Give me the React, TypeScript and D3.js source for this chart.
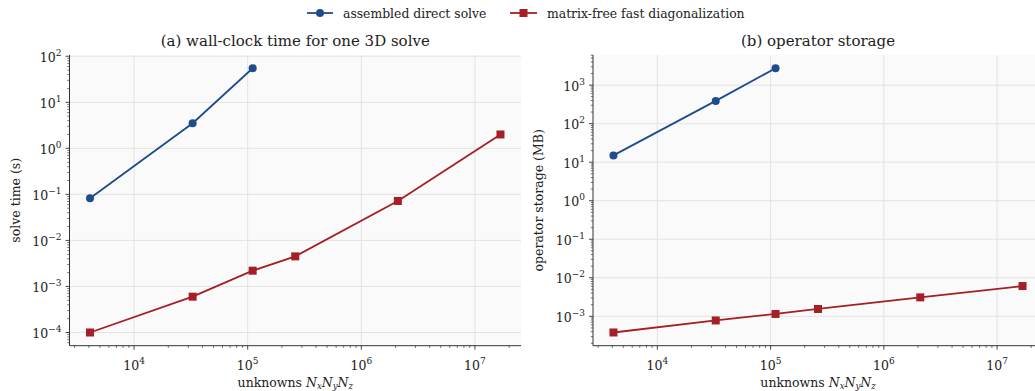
import React from "react";
import * as d3 from "d3";

const unknowns = [4096, 32768, 110592, 262144, 2097152, 16777216];
const directTime = [0.082, 3.5, 55];
const fastTime = [1.0e-4, 6.0e-4, 2.2e-3, 4.5e-3, 0.072, 2.0];
const directStorage = [15, 390, 2750];
const fastStorage = [3.8e-4, 7.8e-4, 1.15e-3, 1.55e-3, 3.1e-3, 6.1e-3];

const BLUE = "#1f4c8c";
const RED = "#a41f26";
const FONT = "DejaVu Serif";

const W = 1035;
const H = 391;

function logDomain(vals: number[]): [number, number] {
  const lo = Math.log10(d3.min(vals)!);
  const hi = Math.log10(d3.max(vals)!);
  const m = (hi - lo) * 0.05;
  return [Math.pow(10, lo - m), Math.pow(10, hi + m)];
}

function Pow({ exp }: { exp: number }) {
  return (
    <>
      10
      <tspan dy={-6} fontSize={9}>
        {exp < 0 ? "\u2212" + -exp : exp}
      </tspan>
    </>
  );
}

interface PanelProps {
  left: number;
  right: number;
  top: number;
  bottom: number;
  title: string;
  ylabel: string;
  blue: number[];
  red: number[];
}

function Panel({ left, right, top, bottom, title, ylabel, blue, red }: PanelProps) {
  const x = d3.scaleLog().domain(logDomain(unknowns)).range([left, right]);
  const y = d3
    .scaleLog()
    .domain(logDomain([...blue, ...red]))
    .range([bottom, top]);

  const ticksFor = (dom: number[]) => {
    const major: number[] = [];
    const minor: number[] = [];
    const a = Math.floor(Math.log10(dom[0]));
    const b = Math.ceil(Math.log10(dom[1]));
    for (let k = a; k <= b; k++) {
      for (let j = 1; j < 10; j++) {
        const v = j * Math.pow(10, k);
        if (v < dom[0] || v > dom[1]) continue;
        if (j === 1) major.push(k);
        else minor.push(v);
      }
    }
    return { major, minor };
  };
  const xt = ticksFor(x.domain());
  const yt = ticksFor(y.domain());

  const line = d3
    .line<[number, number]>()
    .x((d) => x(d[0]))
    .y((d) => y(d[1]));
  const bluePts = blue.map((v, i) => [unknowns[i], v] as [number, number]);
  const redPts = red.map((v, i) => [unknowns[i], v] as [number, number]);
  const cx = (left + right) / 2;
  const cy = (top + bottom) / 2;

  return (
    <g style={{ fontFamily: FONT }}>
      <defs>
        <clipPath id={"clip" + left}>
          <rect x={left} y={top - 6} width={right - left} height={bottom - top + 6} />
        </clipPath>
      </defs>
      <rect x={left} y={top} width={right - left} height={bottom - top} fill="#fafafa" />
      {xt.major.map((k) => (
        <line key={"gx" + k} x1={x(10 ** k)} x2={x(10 ** k)} y1={top} y2={bottom} stroke="#e3e3e3" strokeWidth={1} />
      ))}
      {yt.major.map((k) => (
        <line key={"gy" + k} x1={left} x2={right} y1={y(10 ** k)} y2={y(10 ** k)} stroke="#e3e3e3" strokeWidth={1} />
      ))}
      <g clipPath={`url(#clip${left})`}>
        <path d={line(bluePts)!} fill="none" stroke={BLUE} strokeWidth={1.8} />
        <path d={line(redPts)!} fill="none" stroke={RED} strokeWidth={1.8} />
        {bluePts.map((p, i) => (
          <circle key={"b" + i} cx={x(p[0])} cy={y(p[1])} r={4} fill={BLUE} />
        ))}
        {redPts.map((p, i) => (
          <rect key={"r" + i} x={x(p[0]) - 4} y={y(p[1]) - 4} width={8} height={8} fill={RED} />
        ))}
      </g>
      {/* spines */}
      <line x1={left} x2={left} y1={top} y2={bottom} stroke="#333" strokeWidth={1} />
      <line x1={left} x2={right} y1={bottom} y2={bottom} stroke="#333" strokeWidth={1} />
      {/* x ticks */}
      {xt.major.map((k) => (
        <g key={"xt" + k}>
          <line x1={x(10 ** k)} x2={x(10 ** k)} y1={bottom} y2={bottom + 4} stroke="#333" strokeWidth={0.9} />
          <text x={x(10 ** k)} y={bottom + 24} textAnchor="middle" fontSize={12.5} fill="#222">
            <Pow exp={k} />
          </text>
        </g>
      ))}
      {xt.minor.map((v, i) => (
        <line key={"xm" + i} x1={x(v)} x2={x(v)} y1={bottom} y2={bottom + 2.2} stroke="#333" strokeWidth={0.7} />
      ))}
      {/* y ticks */}
      {yt.major.map((k) => (
        <g key={"yt" + k}>
          <line x1={left - 4} x2={left} y1={y(10 ** k)} y2={y(10 ** k)} stroke="#333" strokeWidth={0.9} />
          <text x={left - 8} y={y(10 ** k) + 5.5} textAnchor="end" fontSize={12.5} fill="#222">
            <Pow exp={k} />
          </text>
        </g>
      ))}
      {yt.minor.map((v, i) => (
        <line key={"ym" + i} x1={left - 2.2} x2={left} y1={y(v)} y2={y(v)} stroke="#333" strokeWidth={0.7} />
      ))}
      <text x={cx} y={top - 9} textAnchor="middle" fontSize={15} fill="#222">
        {title}
      </text>
      <text transform={`translate(${left - 50},${cy}) rotate(-90)`} textAnchor="middle" fontSize={12.5} fill="#222">
        {ylabel}
      </text>
      <text x={cx} y={bottom + 41} textAnchor="middle" fontSize={12.5} fill="#222">
        unknowns <tspan fontStyle="italic">N</tspan>
        <tspan fontStyle="italic" fontSize={8.5} dy={2.5}>x</tspan>
        <tspan fontStyle="italic" dy={-2.5}>N</tspan>
        <tspan fontStyle="italic" fontSize={8.5} dy={2.5}>y</tspan>
        <tspan fontStyle="italic" dy={-2.5}>N</tspan>
        <tspan fontStyle="italic" fontSize={8.5} dy={2.5}>z</tspan>
      </text>
    </g>
  );
}

export default function App() {
  return (
    <svg
      width={W}
      height={H}
      style={{ position: "absolute", left: 0, top: 0, background: "#fff", fontFamily: FONT }}
    >
      <rect width={W} height={H} fill="#fff" />
      <g fontSize={12.4} fill="#222">
        <line x1={307} x2={333} y1={13} y2={13} stroke={BLUE} strokeWidth={1.8} />
        <circle cx={320} cy={13} r={4} fill={BLUE} />
        <text x={343} y={17.5}>assembled direct solve</text>
        <line x1={510} x2={537} y1={13} y2={13} stroke={RED} strokeWidth={1.8} />
        <rect x={519.5} y={9} width={8} height={8} fill={RED} />
        <text x={547} y={17.5}>matrix-free fast diagonalization</text>
      </g>
      <Panel
        left={69.5}
        right={521}
        top={55}
        bottom={345.7}
        title="(a) wall-clock time for one 3D solve"
        ylabel="solve time (s)"
        blue={directTime}
        red={fastTime}
      />
      <Panel
        left={593}
        right={1043}
        top={55}
        bottom={345.7}
        title="(b) operator storage"
        ylabel="operator storage (MB)"
        blue={directStorage}
        red={fastStorage}
      />
    </svg>
  );
}
